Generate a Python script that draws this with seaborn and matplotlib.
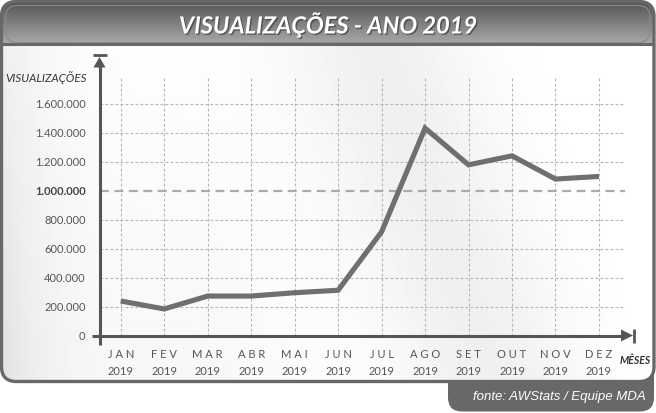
import numpy as np
import pandas as pd
import seaborn as sns
import matplotlib
matplotlib.use("Agg")
import matplotlib.pyplot as plt
from matplotlib.patches import FancyBboxPatch, Polygon
import matplotlib.patheffects as pe

# ---------------- data ----------------
months = ["JAN", "FEV", "MAR", "ABR", "MAI", "JUN", "JUL", "AGO", "SET", "OUT", "NOV", "DEZ"]
year = "2019"
views = [238000, 183000, 272000, 272000, 295000, 312000, 715000, 1430000, 1177000, 1239000, 1079000, 1097000]
yticks = [0, 200000, 400000, 600000, 800000, 1000000, 1200000, 1400000, 1600000]
ytick_labels = ["0", "200.000", "400.000", "600.000", "800.000", "1.000.000", "1.200.000", "1.400.000", "1.600.000"]
highlight = 1000000
title = "VISUALIZAÇÕES - ANO 2019"
ylabel = "VISUALIZAÇÕES"
xlabel = "MÊSES"
source = "fonte: AWStats / Equipe MDA"

df = pd.DataFrame({"pos": np.arange(len(months)), "views": views})

sns.set_theme(style="white")
plt.rcParams["font.family"] = ["Lato", "DejaVu Sans"]

W, H = 656, 413
fig = plt.figure(figsize=(W / 100, H / 100), dpi=100)
fig.patch.set_facecolor("white")

# ---------------- background frame (pixel coordinates) ----------------
bg = fig.add_axes([0, 0, 1, 1], zorder=0)
bg.set_xlim(0, W)
bg.set_ylim(H, 0)
bg.axis("off")

frame_col = "#686868"
# footer tab
tab = FancyBboxPatch((448, 350), 206, 61.5, boxstyle="round,pad=0,rounding_size=14",
                     facecolor=frame_col, edgecolor="none", zorder=1)
bg.add_patch(tab)

# main panel
panel = FancyBboxPatch((1.5, 1.5), 652.5, 380, boxstyle="round,pad=0,rounding_size=15",
                       facecolor="white", edgecolor="none", zorder=2)
bg.add_patch(panel)

yy, xx = np.mgrid[0:H, 0:W]
body = (1.0
        - 0.13 * np.exp(-xx / 55.0) * (0.45 + 0.55 * yy / H)
        - 0.06 * np.exp(-((xx - 0.35 * yy - 360) / 95.0) ** 2)
        - 0.03 * np.exp(-((xx - 200) / 120.0) ** 2) * (yy / H))
im = bg.imshow(body, extent=(0, W, H, 0), cmap="gray", vmin=0, vmax=1, zorder=3,
               aspect="auto", interpolation="bilinear")
im.set_clip_path(panel)

hdr = np.linspace(0.34, 0.66, 60)[:, None] * np.ones((1, 10))
imh = bg.imshow(hdr, extent=(0, W, 44, 2), cmap="gray", vmin=0, vmax=1, zorder=4,
                aspect="auto", interpolation="bilinear")
imh.set_clip_path(panel)
bg.plot([2, 653], [44, 44], color=frame_col, lw=2.2, zorder=5)
inner = FancyBboxPatch((5.5, 5.5), 644.5, 37, boxstyle="round,pad=0,rounding_size=12",
                       facecolor="none", edgecolor="#8a8a8a", lw=0.8, zorder=5)
bg.add_patch(inner)

border = FancyBboxPatch((1.5, 1.5), 652.5, 380, boxstyle="round,pad=0,rounding_size=15",
                        facecolor="none", edgecolor=frame_col, lw=2.4, zorder=6)
bg.add_patch(border)

bg.set_xlim(0, W)
bg.set_ylim(H, 0)

bg.text(328, 24, title, ha="center", va="center", color="white", fontsize=17,
        fontweight="bold", fontstyle="italic", zorder=7,
        path_effects=[pe.withSimplePatchShadow(offset=(1, -1), shadow_rgbFace="#333333", alpha=0.6)])
bg.text(646, 397, source, ha="right", va="center", color="white", fontsize=9.5,
        fontstyle="italic", family=["Liberation Sans", "DejaVu Sans"], zorder=7)
bg.text(87, 78, ylabel, ha="right", va="center", color="#333333", fontsize=8.3,
        fontstyle="italic", zorder=7)
bg.text(635, 360, xlabel, ha="center", va="center", color="#333333", fontsize=7.6,
        fontstyle="italic", fontweight="bold", zorder=7)

# ---------------- plot axes ----------------
x0_px, x_step = 120.7, 43.48
left_px, right_px = 99.5, 625
base_px, top_px = 335.5, 74.5
ymax = 1800000
ax = fig.add_axes([left_px / W, (H - base_px) / H, (right_px - left_px) / W, (base_px - top_px) / H],
                  zorder=2)
ax.set_facecolor("none")
ax.set_xlim((left_px - x0_px) / x_step, (right_px - x0_px) / x_step)
ax.set_ylim(0, ymax)
for s in ax.spines.values():
    s.set_visible(False)

grid_col = "#b4b4b4"
for p in df["pos"]:
    ax.axvline(p, ymax=1 - 2.5 / (base_px - top_px), color=grid_col, lw=0.8, ls=(0, (2.5, 2)), zorder=1)
for v in yticks[1:]:
    if v == highlight:
        ax.axhline(v, color="#aaaaaa", lw=1.6, ls=(0, (4, 2.5)), zorder=1)
    else:
        ax.axhline(v, color=grid_col, lw=0.8, ls=(0, (2.5, 2)), zorder=1)

sns.lineplot(data=df, x="pos", y="views", ax=ax, color="#6f6f6f", lw=3.7, zorder=3,
             solid_joinstyle="miter", solid_capstyle="butt")

ax.set_xticks(df["pos"])
ax.set_xticklabels([" ".join(m) + "\n" + year for m in months], fontsize=8, color="#555555",
                   linespacing=1.65)
ax.set_yticks(yticks)
ax.set_yticklabels(ytick_labels, fontsize=8, color="#555555")
for lab, v in zip(ax.get_yticklabels(), yticks):
    if v == highlight:
        lab.set_fontweight("bold")
        lab.set_color("#444444")
ax.tick_params(axis="y", length=0, pad=10)
ax.tick_params(axis="x", length=0, pad=9.5)
ax.set_xlabel("")
ax.set_ylabel("")

# axis lines (axes-relative)
axis_col = "#555555"
ax.plot([0, 0], [-9.5 / (base_px - top_px), 1 + 10 / (base_px - top_px)], transform=ax.transAxes,
        color=axis_col, lw=2.2, clip_on=False, solid_capstyle="butt", zorder=4)
ax.plot([-7.5 / (right_px - left_px), 1], [0, 0], transform=ax.transAxes,
        color=axis_col, lw=2.2, clip_on=False, solid_capstyle="butt", zorder=4)

# arrowheads in pixel space
bg.add_patch(Polygon([[99.5, 57], [93.5, 67.5], [105.5, 67.5]], closed=True, facecolor=axis_col,
                     edgecolor="none", zorder=8))
bg.plot([92.5, 106.5], [55, 55], color=axis_col, lw=2, zorder=8, solid_capstyle="butt")
bg.add_patch(Polygon([[633, 335.5], [621, 329.5], [621, 341.5]], closed=True, facecolor=axis_col,
                     edgecolor="none", zorder=8))
bg.plot([633.5, 633.5], [328.5, 342.5], color=axis_col, lw=2, zorder=8, solid_capstyle="butt")

fig.savefig("out.png", dpi=100)
